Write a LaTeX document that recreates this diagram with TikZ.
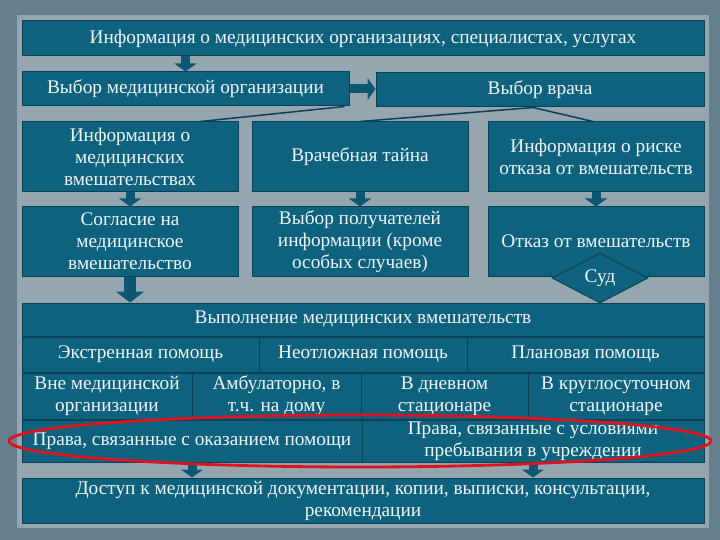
\documentclass[tikz,border=0pt]{standalone}
\usepackage{fontspec}
\setmainfont{Liberation Serif}
\usetikzlibrary{arrows.meta,shapes.geometric}

\definecolor{slate}{RGB}{100,128,142}
\definecolor{panel}{RGB}{150,166,176}
\definecolor{boxteal}{RGB}{14,98,126}
\definecolor{boxedge}{RGB}{9,66,88}
\definecolor{arrteal}{RGB}{12,88,114}
\definecolor{boxtext}{RGB}{238,246,248}
\definecolor{redmark}{RGB}{226,18,28}

\tikzset{
	box/.style={draw=boxedge, fill=boxteal, text=boxtext, line width=1pt, inner sep=0pt,
		align=center, font=\fontsize{19.3}{22}\selectfont},
	blockarrow/.style={draw=arrteal, line width=9pt, -{Triangle[width=22pt,length=8pt]}},
	bigarrow/.style={draw=arrteal, line width=12pt, -{Triangle[width=28pt,length=11pt]}},
	thinline/.style={draw=boxedge, line width=1.5pt}
}

\begin{document}
\begin{tikzpicture}[x=1pt, y=-1pt]
	\useasboundingbox (0,0) rectangle (720,540);

	% Fond
	\fill[slate] (0,0) rectangle (720,540);
	\fill[panel] (17,15) rectangle (709,528);

	% Haut
	\node[box, minimum width=682pt, minimum height=35pt] (info) at (363,38.5)
		{Информация о медицинских организациях, специалистах, услугах};
	\node[box, minimum width=327pt, minimum height=34pt] (org) at (185.5,89)
		{Выбор медицинской организации};
	\node[box, minimum width=328pt, minimum height=34pt] (vrach) at (540,90)
		{Выбор врача};

	% Rang 2
	\node[box, minimum width=216pt, minimum height=70pt] (infovm) at (130,157)
		{Информация о\\медицинских\\вмешательствах};
	\node[box, minimum width=216pt, minimum height=70pt] (taina) at (360,157)
		{Врачебная тайна};
	\node[box, minimum width=216pt, minimum height=70pt] (risk) at (596,157)
		{Информация о риске\\отказа от вмешательств};

	% Rang 3
	\node[box, minimum width=216pt, minimum height=69pt] (soglasie) at (130,241.5)
		{Согласие на\\медицинское\\вмешательство};
	\node[box, minimum width=216pt, minimum height=69pt] (poluch) at (360,241.5)
		{Выбор получателей\\информации (кроме\\особых случаев)};
	\node[box, minimum width=216pt, minimum height=69pt] (otkaz) at (596,241.5)
		{Отказ от вмешательств};

	% Exécution
	\node[box, minimum width=682pt, minimum height=33pt] (vypoln) at (363,319.5)
		{Выполнение медицинских вмешательств};
	\node[box, minimum width=237pt, minimum height=35pt] (ekstr) at (140.5,354.5)
		{Экстренная помощь};
	\node[box, minimum width=208pt, minimum height=35pt] (neotl) at (363,354.5)
		{Неотложная помощь};
	\node[box, minimum width=237pt, minimum height=35pt] (plan) at (585.5,354.5)
		{Плановая помощь};

	\node[box, minimum width=170pt, minimum height=46pt] (vne) at (107,396)
		{Вне медицинской\\организации};
	\node[box, minimum width=169pt, minimum height=46pt] (ambul) at (276.5,396)
		{Амбулаторно, в\\т.ч. на дому};
	\node[box, minimum width=167pt, minimum height=46pt] (dnev) at (444.5,396)
		{В дневном\\стационаре};
	\node[box, minimum width=176pt, minimum height=46pt] (krugl) at (616,396)
		{В круглосуточном\\стационаре};

	\node[box, minimum width=340pt, minimum height=42pt] (pravaok) at (192,441)
		{Права, связанные с оказанием помощи};
	\node[box, minimum width=342pt, minimum height=42pt] (pravausl) at (533,441)
		{Права, связанные с условиями\\пребывания в учреждении};

	% Bas
	\node[box, minimum width=682pt, minimum height=45pt] (dostup) at (363,500.5)
		{Доступ к медицинской документации, копии, выписки, консультации,\\рекомендации};

	% Sud
	\node[box, shape=diamond, aspect=1.9, minimum width=96pt, minimum height=50pt] (sud) at (600,278)
		{Суд};

	% Liens
	\draw[thinline] ([xshift=-5pt]org.south east) -- ([xshift=-38pt]infovm.north east);
	\draw[thinline] ([xshift=-7pt]vrach.south) -- (taina.north);
	\draw[thinline] ([xshift=-7pt]vrach.south) -- ([xshift=-3pt]risk.north);

	% Flèches
	\draw[blockarrow] (info.south -| org.north) -- (org.north);
	\draw[blockarrow] (org.east) -- (vrach.west |- org.east);
	\foreach \a/\b in {infovm/soglasie, taina/poluch, risk/otkaz}
	{
	\draw[blockarrow] (\a.south) -- (\b.north);
	}
	\draw[bigarrow] (soglasie.south) -- (vypoln.north -| soglasie.south);
	\foreach \a in {pravaok, pravausl}
	{
	\draw[blockarrow] (\a.south) -- (dostup.north -| \a.south);
	}

	% Ellipse
	\draw[redmark, line width=2.8pt] (360,441) ellipse (351pt and 26pt);

\end{tikzpicture}
\end{document}
